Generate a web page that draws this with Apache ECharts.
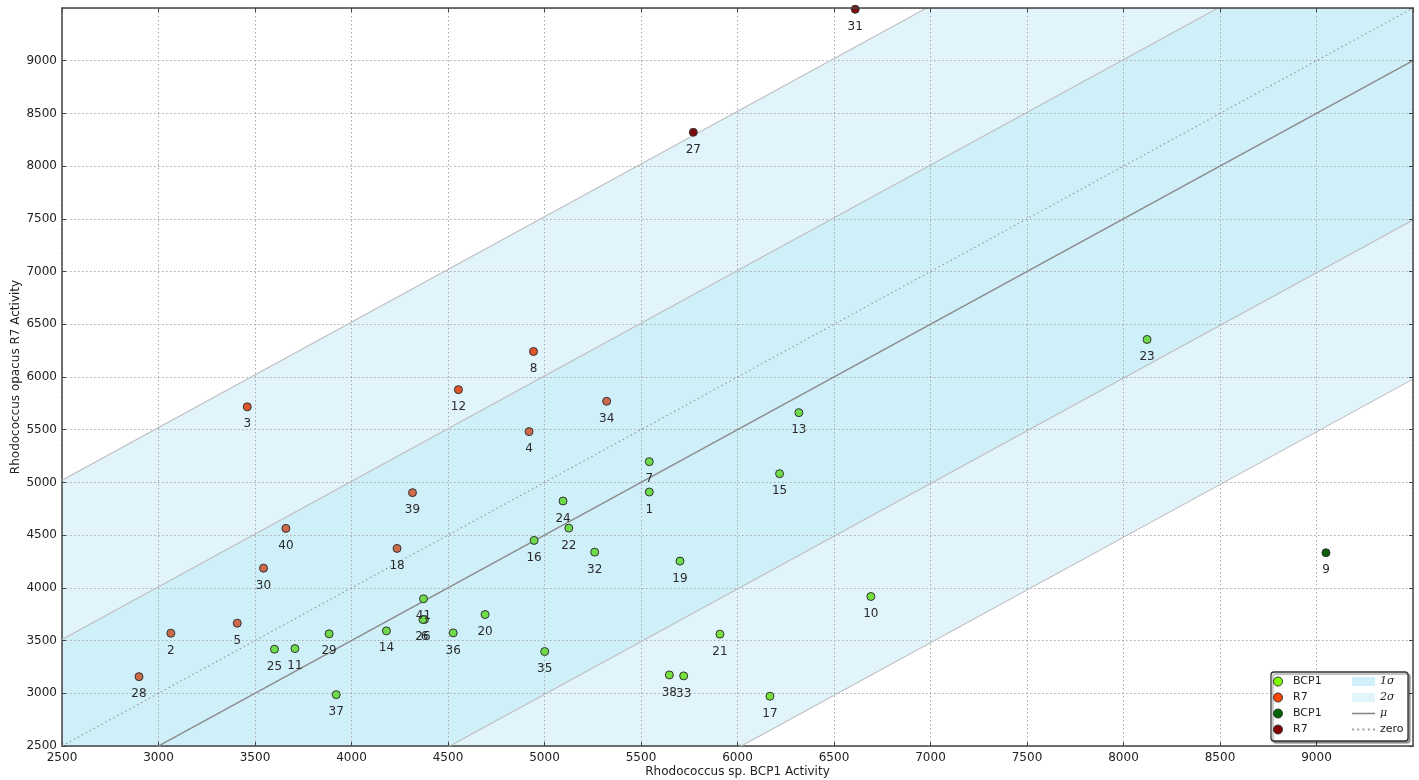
<!DOCTYPE html>
<html>
<head>
<meta charset="utf-8">
<script src="https://cdn.jsdelivr.net/npm/echarts@6/dist/echarts.min.js"></script>
<style>
  html, body { margin: 0; padding: 0; background: #ffffff; }
  #chart { width: 1419px; height: 780px; }
</style>
</head>
<body>
<div id="chart"></div>
<script>
// ---- data ----
const pointIds = ['1','2','3','4','5','6','7','8','9','10','11','12','13','14','15','16','17','18','19','20','21','22','23','24','25','26','27','28','29','30','31','32','33','34','35','36','37','38','39','40','41'];
const bcp1Activity = [5543,3064,3460,4920,3408,4378,5543,4943,9049,6691,3707,4554,6318,4181,6218,4946,6168,4236,5702,4692,5909,5126,8122,5096,3601,4370,5771,2899,3884,3544,6610,5260,5721,5322,5001,4527,3921,5647,4316,3660,4373];
const r7Activity   = [4909,3570,5717,5482,3665,3700,5197,6242,4333,3918,3424,5880,5662,3592,5083,4450,2972,4374,4254,3747,3561,4567,6356,4824,3418,3700,8321,3158,3564,4187,9488,4339,3165,5770,3396,3573,2987,3174,4903,4564,3896];
const muOffset = -500;      // mean of (R7 - BCP1)
const sigma = 1510;         // std of (R7 - BCP1)
const axisMin = 2500, axisMax = 9500, tickStep = 500;
const lineX = [2500, 9500];
const xAxisName = 'Rhodococcus sp. BCP1 Activity';
const yAxisName = 'Rhodococcus opacus R7 Activity';

// ---- styles ----
const FONT = 'DejaVu Sans';
const C = {
  bcp1In: '#6edc4a', bcp1Mid: '#76e03c', bcp1Out: '#0b5e0b',
  r7In: '#cd6a4c', r7Mid: '#e0542b', r7Out: '#7d0a0a',
  legBcp1: '#7fff00', legR7: '#ff4500', legBcp1Out: '#006400', legR7Out: '#800000',
  s1: '#cfeff9', s2: '#e2f4fb', edge: '#bdbdbd', mu: '#8a8a8a', zero: '#9a9a9a'
};

function bandOf(i) {
  const z = Math.abs(r7Activity[i] - bcp1Activity[i] - muOffset) / sigma;
  return z > 2 ? 2 : (z > 1 ? 1 : 0);
}
const groups = { bcp1: [], r7: [], bcp1Out: [], r7Out: [] };
pointIds.forEach((id, i) => {
  const b = bandOf(i);
  const higherR7 = r7Activity[i] > bcp1Activity[i];
  let key, color;
  if (b === 2) { key = higherR7 ? 'r7Out' : 'bcp1Out'; color = higherR7 ? C.r7Out : C.bcp1Out; }
  else if (higherR7) { key = 'r7'; color = b === 1 ? C.r7Mid : C.r7In; }
  else { key = 'bcp1'; color = b === 1 ? C.bcp1Mid : C.bcp1In; }
  groups[key].push({ value: [bcp1Activity[i], r7Activity[i], id], itemStyle: { color: color } });
});

function scatter(name, data, legendColor) {
  return {
    name: name, type: 'scatter', z: 5, data: data,
    symbolSize: 8, color: legendColor,
    itemStyle: { borderColor: '#333', borderWidth: 1, opacity: 1 },
    label: { show: true, position: 'bottom', distance: 7, formatter: p => p.value[2],
             color: '#2a2a2a', fontFamily: FONT, fontSize: 12 },
    emphasis: { disabled: true }
  };
}

function edgeLine(off, color, width, type) {
  return { type: 'line', z: 3, symbol: 'none', silent: true,
           data: lineX.map(x => [x, x + off]),
           lineStyle: { color: color, width: width, type: type || 'solid' },
           emphasis: { disabled: true } };
}

// bands: [low offset, high offset] relative to the line y = x
const bandData = [
  [muOffset - 2 * sigma, muOffset + 2 * sigma, 0],
  [muOffset - sigma, muOffset + sigma, 1]
];

const series = [
  { type: 'custom', z: 1, silent: true, clip: true, data: bandData,
    encode: { x: -1, y: -1 },
    renderItem: function (params, api) {
      const lo = api.value(0), hi = api.value(1), k = api.value(2);
      const a = lineX[0], b = lineX[1];
      const pts = [api.coord([a, a + lo]), api.coord([b, b + lo]),
                   api.coord([b, b + hi]), api.coord([a, a + hi])];
      return { type: 'polygon', shape: { points: pts },
               style: { fill: k === 0 ? C.s2 : C.s1, stroke: null } };
    } },
  edgeLine(muOffset - 2 * sigma, C.edge, 1.1),
  edgeLine(muOffset - sigma, C.edge, 1.1),
  edgeLine(muOffset + sigma, C.edge, 1.1),
  edgeLine(muOffset + 2 * sigma, C.edge, 1.1),
  Object.assign(edgeLine(muOffset, C.mu, 1.4), { name: 'μ', color: C.mu }),
  Object.assign(edgeLine(0, C.zero, 1.2, [1.5, 3]), { name: 'zero', color: C.zero }),
  { name: '1σ', type: 'line', data: [], color: C.s1, itemStyle: { color: C.s1 } },
  { name: '2σ', type: 'line', data: [], color: C.s2, itemStyle: { color: C.s2 } },
  scatter('BCP1', groups.bcp1, C.legBcp1),
  scatter('R7', groups.r7, C.legR7),
  scatter('BCP1 ', groups.bcp1Out, C.legBcp1Out),
  scatter('R7 ', groups.r7Out, C.legR7Out)
];

const gridLine = { show: true, lineStyle: { color: '#a8a8a8', width: 1, type: [1.5, 2.5] } };
const labelStyle = { color: '#222', fontFamily: FONT, fontSize: 12, formatter: v => String(v) };
const frameLine = { show: true, onZero: false, lineStyle: { color: '#444', width: 1.5 } };
const innerTick = { show: true, inside: true, length: 4, lineStyle: { color: '#444' } };

const option = {
  animation: false,
  backgroundColor: '#ffffff',
  grid: { left: 62, right: 6, top: 8, bottom: 34, containLabel: false, outerBoundsMode: 'none' },
  xAxis: [
    { type: 'value', position: 'bottom', min: axisMin, max: axisMax, interval: tickStep, z: 2,
      name: xAxisName, nameLocation: 'middle', nameGap: 20, nameMoveOverlap: false,
      nameTextStyle: { color: '#222', fontFamily: FONT, fontSize: 12 },
      axisLine: frameLine, axisTick: innerTick,
      axisLabel: Object.assign({ margin: 6, showMaxLabel: false }, labelStyle),
      splitLine: gridLine },
    { type: 'value', position: 'top', min: axisMin, max: axisMax, interval: tickStep, z: 6,
      axisLine: frameLine, axisTick: innerTick,
      axisLabel: { show: false }, splitLine: { show: false } }
  ],
  yAxis: [
    { type: 'value', position: 'left', min: axisMin, max: axisMax, interval: tickStep, z: 2,
      name: yAxisName, nameLocation: 'middle', nameGap: 40, nameMoveOverlap: false,
      nameTextStyle: { color: '#222', fontFamily: FONT, fontSize: 12 },
      axisLine: frameLine, axisTick: innerTick,
      axisLabel: Object.assign({ margin: 5, showMaxLabel: false }, labelStyle),
      splitLine: gridLine },
    { type: 'value', position: 'right', min: axisMin, max: axisMax, interval: tickStep, z: 6,
      axisLine: frameLine, axisTick: innerTick,
      axisLabel: { show: false }, splitLine: { show: false } }
  ],
  graphic: [{
    type: 'rect', z: 20, silent: true,
    shape: { x: 1271, y: 672, width: 137, height: 69, r: 3 },
    style: { fill: '#ffffff', stroke: '#333', lineWidth: 1.3,
             shadowColor: 'rgba(0,0,0,0.35)', shadowOffsetX: 2, shadowOffsetY: 2, shadowBlur: 1 }
  }],
  legend: [
    { z: 30, left: 1273, top: 676, orient: 'vertical', selectedMode: false,
      itemWidth: 24, itemHeight: 9, itemGap: 5, padding: 0,
      textStyle: { color: '#222', fontFamily: FONT, fontSize: 11, lineHeight: 10, padding: [0, 0, 0, -2] },
      data: [
        { name: 'BCP1', icon: 'circle', itemStyle: { color: C.legBcp1, borderColor: '#333', borderWidth: 1 } },
        { name: 'R7', icon: 'circle', itemStyle: { color: C.legR7, borderColor: '#333', borderWidth: 1 } },
        { name: 'BCP1 ', icon: 'circle', itemStyle: { color: C.legBcp1Out, borderColor: '#333', borderWidth: 1 } },
        { name: 'R7 ', icon: 'circle', itemStyle: { color: C.legR7Out, borderColor: '#333', borderWidth: 1 } }
      ] },
    { z: 30, left: 1352, top: 676, orient: 'vertical', selectedMode: false,
      itemWidth: 23, itemHeight: 9, itemGap: 5, padding: 0,
      textStyle: { color: '#222', fontFamily: FONT, fontSize: 11, lineHeight: 10,
        rich: { m: { fontFamily: 'DejaVu Serif', fontStyle: 'italic', fontSize: 11, color: '#222', lineHeight: 10 } } },
      formatter: n => n === 'zero' ? n : '{m|' + n + '}',
      data: [
        { name: '1σ', icon: 'rect', itemStyle: { color: C.s1, borderWidth: 0 } },
        { name: '2σ', icon: 'rect', itemStyle: { color: C.s2, borderWidth: 0 } },
        { name: 'μ', icon: 'path://M0,0H20V1.4H0Z', itemStyle: { color: C.mu, borderWidth: 0 } },
        { name: 'zero', icon: 'path://M0,0h1.4v1.4h-1.4z M4,0h1.4v1.4h-1.4z M8,0h1.4v1.4h-1.4z M12,0h1.4v1.4h-1.4z M16,0h1.4v1.4h-1.4z',
          itemStyle: { color: C.zero, borderWidth: 0 } }
      ] }
  ],
  series: series
};

const chart = echarts.init(document.getElementById('chart'), null, { renderer: 'canvas' });
chart.setOption(option);
</script>
</body>
</html>
